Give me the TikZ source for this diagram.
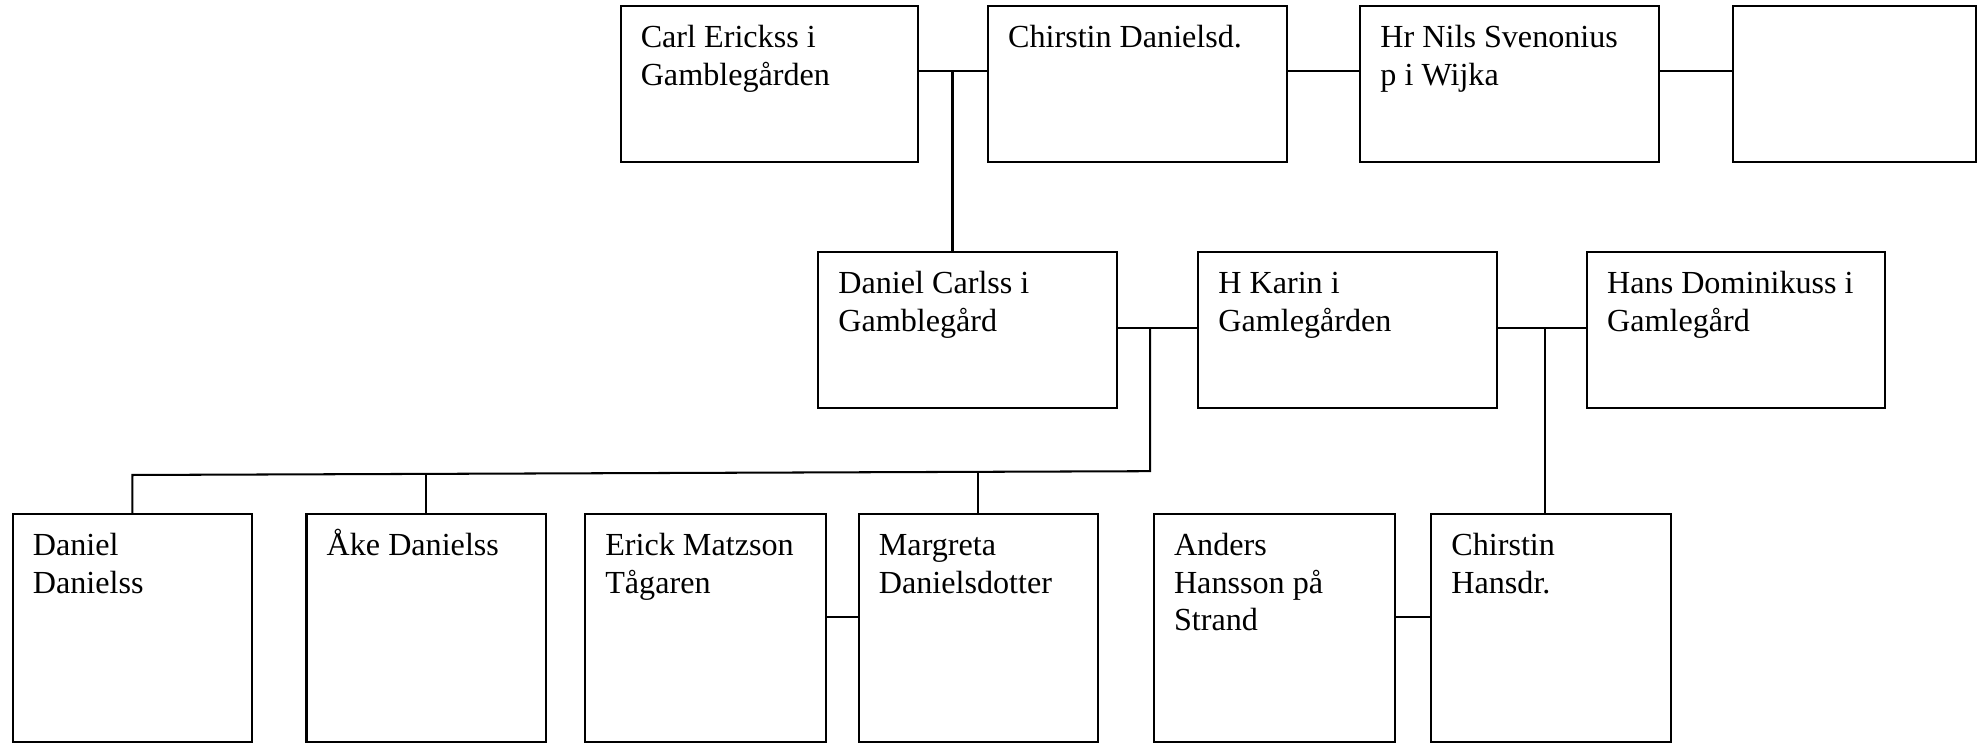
\documentclass[tikz,border=0pt]{standalone}
\usepackage{fontspec}
\setmainfont{Liberation Serif}
\usetikzlibrary{fit}
\newcommand\topstrut{\rule{0pt}{11pt}}
\begin{document}
\begin{tikzpicture}[x=0.465pt,y=-0.465pt,line width=0.75pt,
  box/.style={draw, inner sep=0pt, fit={#1}},
  lbl/.style={anchor=north west, align=left, inner sep=0pt, xshift=7.4pt, yshift=-4.2pt,
    font=\fontsize{11.8}{13.8}\selectfont}]
\useasboundingbox (0,0) rectangle (1568,588);
% row 1
\node[box={(490,5) (725,128)}, label={[lbl]north west:{\topstrut Carl Erickss i\\Gamblegården}}] (carl) {};
\node[box={(780,5) (1016,128)}, label={[lbl]north west:{\topstrut Chirstin Danielsd.}}] (chir1) {};
\node[box={(1074,5) (1310,128)}, label={[lbl]north west:{\topstrut Hr Nils Svenonius\\p i Wijka}}] (nils) {};
\node[box={(1368,5) (1560,128)}] (empty) {};
% row 2
\node[box={(646,199) (882,322)}, label={[lbl]north west:{\topstrut Daniel Carlss i\\Gamblegård}}] (dcarl) {};
\node[box={(946,199) (1182,322)}, label={[lbl]north west:{\topstrut H Karin i\\Gamlegården}}] (karin) {};
\node[box={(1253,199) (1488,322)}, label={[lbl]north west:{\topstrut Hans Dominikuss i\\Gamlegård}}] (hans) {};
% row 3
\node[box={(10,406) (199,586)}, label={[lbl]north west:{\topstrut Daniel\\Danielss}}] (dd) {};
\node[box={(242,406) (431,586)}, label={[lbl]north west:{\topstrut Åke Danielss}}] (ake) {};
\node[box={(462,406) (652,586)}, label={[lbl]north west:{\topstrut Erick Matzson\\Tågaren}}] (erick) {};
\node[box={(678,406) (867,586)}, label={[lbl]north west:{\topstrut Margreta\\Danielsdotter}}] (marg) {};
\node[box={(911,406) (1101,586)}, label={[lbl]north west:{\topstrut Anders\\Hansson på\\Strand}}] (anders) {};
\node[box={(1130,406) (1319,586)}, label={[lbl]north west:{\topstrut Chirstin\\Hansdr.}}] (chir2) {};
% connectors
\coordinate (m1) at (752,56);
\draw (carl.east |- m1) -- (chir1.west |- m1);
\draw (m1) -- (m1 |- dcarl.north);
\draw (chir1.east |- m1) -- (nils.west |- m1);
\draw (nils.east |- m1) -- (empty.west |- m1);
\coordinate (m2) at (908,259);
\draw (dcarl.east |- m2) -- (karin.west |- m2);
\draw (m2) -- (908,372) -- (dd.north |- 0,375) -- (dd.north);
\draw (ake.north) -- (ake.north |- 0,374);
\draw (marg.north) -- (marg.north |- 0,373);
\coordinate (m3) at (1220,259);
\draw (karin.east |- m3) -- (hans.west |- m3);
\draw (m3) -- (m3 |- chir2.north);
\coordinate (m4) at (0,487);
\draw (erick.east |- m4) -- (marg.west |- m4);
\draw (anders.east |- m4) -- (chir2.west |- m4);
\end{tikzpicture}
\end{document}
